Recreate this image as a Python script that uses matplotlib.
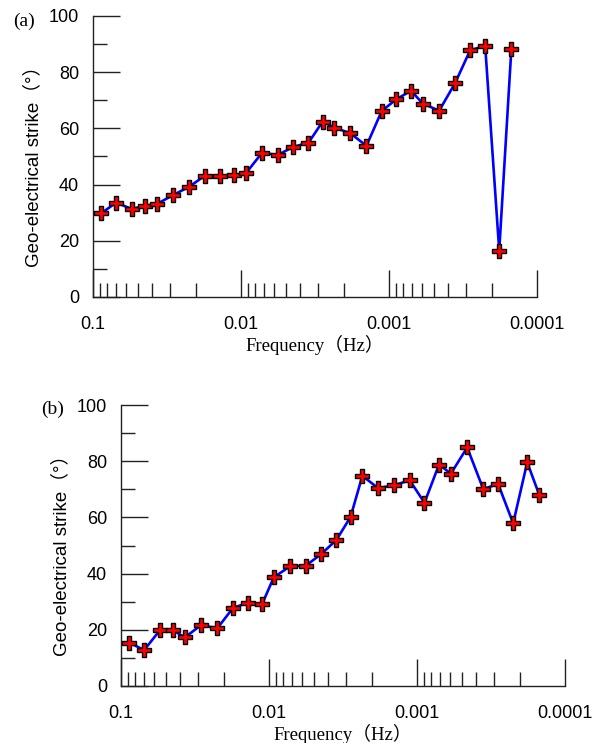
import matplotlib
matplotlib.use("Agg")
import matplotlib.pyplot as plt
from matplotlib.ticker import FixedLocator, FixedFormatter, LogLocator, NullFormatter, MultipleLocator

# ---- data ----
freq = [0.0879, 0.0697, 0.0547, 0.0444, 0.0370, 0.0289, 0.0223, 0.0175, 0.0139, 0.0111,
        0.00928, 0.00719, 0.00565, 0.00445, 0.00350, 0.00281, 0.00234, 0.00183, 0.00142,
        0.00112, 0.00089, 0.00071, 0.00059, 0.000458, 0.000357, 0.000283, 0.000224,
        0.000180, 0.000149]
strike_a = [29.8, 33.6, 31.3, 32.5, 33.1, 36.2, 39.3, 43.2, 43.2, 43.4,
            44.0, 51.4, 50.5, 53.4, 54.9, 62.4, 60.3, 58.3, 53.8,
            66.2, 70.4, 73.4, 68.8, 66.3, 76.2, 87.8, 89.4, 16.5, 88.3]
strike_b = [15.4, 12.8, 19.8, 19.8, 17.3, 21.6, 20.6, 27.8, 29.6, 29.3,
            38.7, 42.6, 42.8, 46.9, 52.0, 60.2, 74.8, 70.4, 71.5,
            73.2, 65.2, 78.8, 75.6, 84.9, 70.1, 71.9, 57.9, 79.6, 67.9]
xticks = [0.1, 0.01, 0.001, 0.0001]
xticklabels = ["0.1", "0.01", "0.001", "0.0001"]
yticks = [0, 20, 40, 60, 80, 100]
ylabel = "Geo-electrical strike（°）"
xlabel = "Frequency（Hz）"
panel_labels = ["(a)", "(b)"]

W, H = 601, 743
fig = plt.figure(figsize=(W / 100, H / 100), dpi=100)

axes_px = [(93, 16, 537, 297), (121, 405, 565, 686)]
label_pos = [(24, 21), (53, 409)]

for i, (series, (x0, y0, x1, y1)) in enumerate(zip([strike_a, strike_b], axes_px)):
    ax = fig.add_axes([x0 / W, 1 - y1 / H, (x1 - x0) / W, (y1 - y0) / H])
    ax.plot(freq, series, color="#0000ff", lw=1.9, marker="P", ms=9.5,
            mfc="#ff0000", mec="black", mew=1.0, clip_on=False, zorder=3)
    ax.set_xscale("log")
    ax.set_xlim(0.1, 0.0001)
    ax.set_ylim(0, 100)
    for s in ("top", "right"):
        ax.spines[s].set_visible(False)
    for s in ("left", "bottom"):
        ax.spines[s].set_linewidth(1.0)
        ax.spines[s].set_color("#222222")
    ax.xaxis.set_major_locator(FixedLocator(xticks))
    ax.xaxis.set_major_formatter(FixedFormatter(xticklabels))
    ax.xaxis.set_minor_locator(LogLocator(base=10, subs=range(2, 10)))
    ax.xaxis.set_minor_formatter(NullFormatter())
    ax.yaxis.set_major_locator(FixedLocator(yticks))
    ax.yaxis.set_minor_locator(MultipleLocator(10))
    ax.tick_params(which="major", direction="in", length=19.5, width=1.0, color="#222222")
    ax.tick_params(which="minor", direction="in", length=10, width=1.0, color="#222222")
    ax.tick_params(axis="x", which="major", pad=13.5)
    ax.tick_params(axis="y", which="major", pad=10)
    for lab in ax.get_xticklabels() + ax.get_yticklabels():
        lab.set_fontfamily("Liberation Sans")
        lab.set_fontsize(13)
    ax.set_ylabel(ylabel, fontsize=13.5, family=["Liberation Sans", "Noto Sans CJK SC"])
    ax.yaxis.set_label_coords(-0.115, 0.48)
    ax.set_xlabel(xlabel, fontsize=13.5, family=["Liberation Serif", "Noto Sans CJK SC"])
    ax.xaxis.set_label_coords(0.5, -0.135)
    fig.text(label_pos[i][0] / W, 1 - label_pos[i][1] / H, panel_labels[i],
             ha="center", va="center", fontsize=14, family="Liberation Serif")

fig.savefig("out.png", dpi=100)
